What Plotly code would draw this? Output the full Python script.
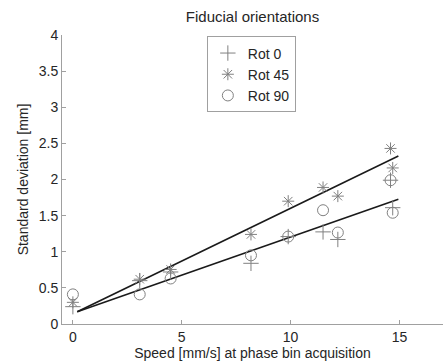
import plotly.graph_objects as go

speed = [0, 3.07, 4.49, 8.18, 9.89, 11.49, 12.17, 14.59, 14.69]
rot0 = [0.24, 0.60, 0.72, 0.84, 1.21, 1.275, 1.17, 1.99, 1.61]
rot45 = [0.30, 0.62, 0.755, 1.24, 1.70, 1.89, 1.77, 2.43, 2.16]
rot90 = [0.41, 0.41, 0.63, 0.95, 1.21, 1.575, 1.266, 1.99, 1.54]

fit_x = [0.2, 14.95]
fit_upper = [0.17, 2.325]
fit_lower = [0.17, 1.727]

mk = "#808080"
fig = go.Figure()
fig.add_trace(go.Scatter(x=fit_x, y=fit_upper, mode="lines", line=dict(color="#1a1a1a", width=1.6), showlegend=False))
fig.add_trace(go.Scatter(x=fit_x, y=fit_lower, mode="lines", line=dict(color="#1a1a1a", width=1.6), showlegend=False))
fig.add_trace(go.Scatter(x=speed, y=rot0, mode="markers", name="Rot 0",
                         marker=dict(symbol="cross-thin-open", size=11, line=dict(color=mk, width=1), color=mk)))
fig.add_trace(go.Scatter(x=speed, y=rot45, mode="markers", name="Rot 45",
                         marker=dict(symbol="asterisk-open", size=10, line=dict(color=mk, width=1), color=mk)))
fig.add_trace(go.Scatter(x=speed, y=rot90, mode="markers", name="Rot 90",
                         marker=dict(symbol="circle-open", size=11, line=dict(color=mk, width=1), color=mk)))

axis_common = dict(showgrid=False, zeroline=False, showline=True, linecolor="#a0a0a0", linewidth=1,
                   ticks="inside", ticklen=4, tickcolor="#a0a0a0",
                   tickfont=dict(size=14, color="#262626", family="Liberation Sans, Arial"))
fig.update_layout(
    width=443, height=364,
    margin=dict(l=62, r=0, t=35, b=40),
    paper_bgcolor="white", plot_bgcolor="white",
    font=dict(family="Liberation Sans, Arial", color="#262626"),
    title=dict(text="Fiducial orientations", x=0.5, xref="paper", xanchor="center", y=1 - 17 / 364,
               yanchor="middle", font=dict(size=15, color="#262626")),
    xaxis=dict(range=[-0.5, 17], tickvals=[0, 5, 10, 15],
               title=dict(text="Speed [mm/s] at phase bin acquisition", font=dict(size=14), standoff=2), **axis_common),
    yaxis=dict(range=[0, 4], tickvals=[0, 0.5, 1, 1.5, 2, 2.5, 3, 3.5, 4],
               ticktext=["0", "0.5", "1", "1.5", "2", "2.5", "3", "3.5", "4"],
               title=dict(text="Standard deviation [mm]", font=dict(size=14), standoff=6), **axis_common),
    legend=dict(x=0.497, y=0.995, xanchor="center", yanchor="top", bgcolor="white", bordercolor="#a0a0a0",
                borderwidth=1, font=dict(size=14, color="#262626"), itemwidth=30, tracegroupgap=0,
                traceorder="normal"),
)
fig.write_html("out.html", config={"displayModeBar": False},
               post_script="document.body.style.margin='0';document.body.style.overflow='hidden';")
